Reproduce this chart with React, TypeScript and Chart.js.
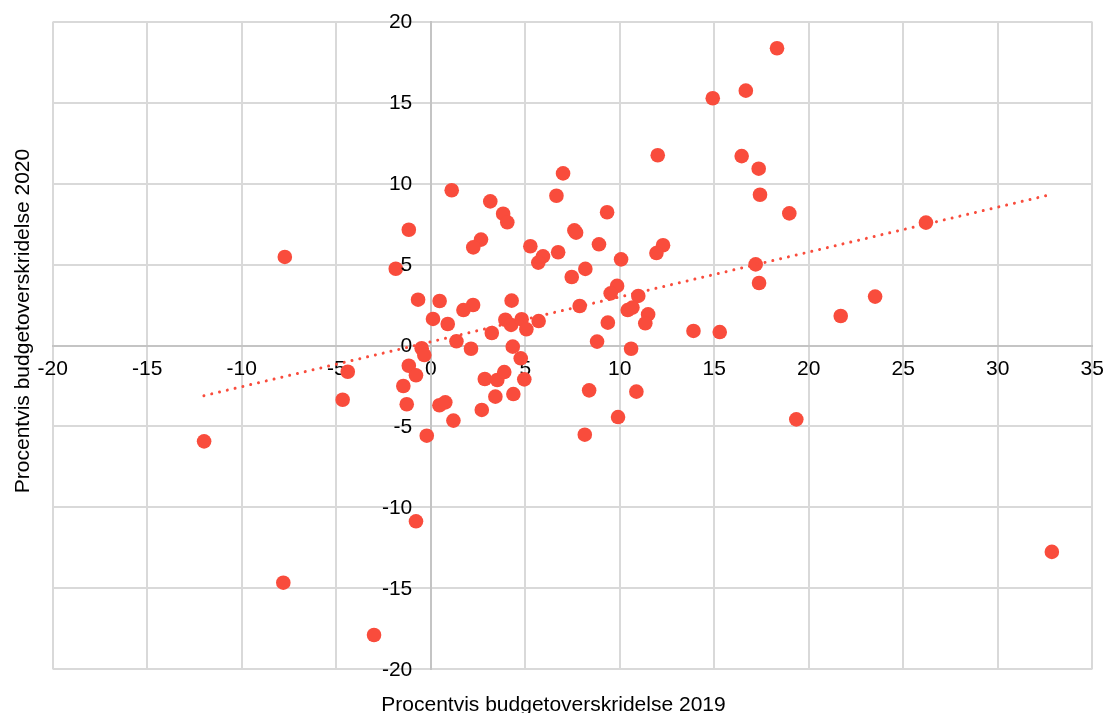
import React, { useEffect, useRef } from "react";
import { Chart, registerables } from "chart.js";

Chart.register(...registerables);

// Procentvis budgetoverskridelse 2019 (x) and 2020 (y)
const overrun2019: number[] = [
  -7.72, -1.16, -1.85, -0.67, 0.47, 0.12, 0.9, -0.48, -0.34, 18.32,
  14.92, 16.67, 12.01, 16.45, 17.35, 17.42, 18.97, 7.0, 6.65, 9.33,
  1.11, 3.15, 3.83, 4.05, 2.66, 2.25, 5.27, 5.94, 5.69, 6.74,
  7.6, 7.69, 8.9, 10.07, 12.29, 11.94, 17.19, 17.37, 7.46, 8.18,
  9.86, 9.52, 10.98, 10.42, 10.67, 11.5, 11.35, 13.9, 15.29, 7.88,
  9.37, 8.8, 10.6, 4.28, 2.24, 1.73, 3.95, 4.25, 4.81, 5.06,
  5.71, 3.23, 1.36, 2.13, 4.34, 4.76, -1.16, -0.78, -1.45, -1.27,
  -0.21, 0.46, 0.77, 1.2, 2.7, 2.86, 3.52, 3.89, 3.42, 4.37,
  4.95, -4.39, -4.66, -11.99, -7.8, -3.0, -0.78, 8.38, 10.88, 9.91,
  8.15, 19.34, 32.86, 26.2, 21.69, 23.51,
];
const overrun2020: number[] = [
  5.47, 7.15, 4.74, 2.83, 2.75, 1.64, 1.33, -0.17, -0.59, 18.36,
  15.27, 15.74, 11.75, 11.7, 10.92, 9.31, 8.16, 10.63, 9.25, 8.23,
  9.59, 8.9, 8.14, 7.61, 6.54, 6.06, 6.13, 5.51, 5.12, 5.76,
  7.11, 6.97, 6.25, 5.32, 6.19, 5.71, 5.01, 3.86, 4.23, 4.73,
  3.68, 3.22, 3.06, 2.19, 2.34, 1.92, 1.37, 0.9, 0.83, 2.44,
  1.41, 0.24, -0.2, 2.77, 2.5, 2.19, 1.59, 1.27, 1.62, 1.0,
  1.51, 0.77, 0.26, -0.2, -0.07, -0.79, -1.25, -1.84, -2.5, -3.63,
  -5.57, -3.69, -3.51, -4.64, -3.98, -2.07, -2.13, -1.64, -3.16, -3.0,
  -2.09, -1.62, -3.35, -5.92, -14.65, -17.88, -10.86, -2.77, -2.85, -4.42,
  -5.51, -4.56, -12.75, 7.59, 1.82, 3.02,
];

// Linear trendline end points
const trendX: number[] = [-12.0, 32.86];
const trendY: number[] = [-3.1, 9.34];

const xTitle = "Procentvis budgetoverskridelse 2019";
const yTitle = "Procentvis budgetoverskridelse 2020";

const RED = "#f94c3c";
const FONT = "'Liberation Sans', Arial, sans-serif";
const TICK_SIZE = 21;

const labelsPlugin = {
  id: "axisTitlesAndYTicks",
  afterDraw(chart: any) {
    const ctx = chart.ctx;
    const ys = chart.scales.y;
    const xs = chart.scales.x;
    ctx.save();
    ctx.fillStyle = "#000";
    // y tick labels, right-aligned just left of the x = 0 axis line
    ctx.font = `${TICK_SIZE}px ${FONT}`;
    ctx.textAlign = "right";
    ctx.textBaseline = "middle";
    const axisX = xs.getPixelForValue(0);
    ys.ticks.forEach((t: any) => {
      ctx.fillText(String(t.value), axisX - 18.5, ys.getPixelForValue(t.value) + 1);
    });
    // axis titles
    ctx.font = `21px ${FONT}`;
    ctx.textAlign = "center";
    ctx.textBaseline = "alphabetic";
    ctx.fillText(xTitle, 553.5, 711);
    ctx.translate(28.7, 321);
    ctx.rotate(-Math.PI / 2);
    ctx.fillText(yTitle, 0, 0);
    ctx.restore();
  },
};

const noOverflow = (scale: any) => {
  scale.paddingLeft = 0;
  scale.paddingRight = 0;
  scale.paddingTop = 0;
  scale.paddingBottom = 0;
};

export default function App() {
  const ref = useRef<HTMLCanvasElement | null>(null);
  useEffect(() => {
    if (!ref.current) return;
    const points = overrun2019.map((x, i) => ({ x, y: overrun2020[i] }));
    const trend = trendX.map((x, i) => ({ x, y: trendY[i] }));
    const chart = new Chart(ref.current, {
      type: "scatter",
      data: {
        datasets: [
          {
            type: "line",
            data: trend,
            showLine: true,
            borderColor: RED,
            borderWidth: 3,
            borderDash: [0.01, 8],
            borderCapStyle: "round",
            pointRadius: 0,
            fill: false,
          } as any,
          {
            data: points,
            backgroundColor: RED,
            borderWidth: 0,
            pointRadius: 7.3,
            pointHoverRadius: 7.3,
          },
        ],
      },
      options: {
        animation: false,
        responsive: false,
        layout: { padding: { left: 52.7, top: 21.7, right: 13.7, bottom: 43.7 } },
        plugins: { legend: { display: false }, tooltip: { enabled: false } },
        scales: {
          x: {
            type: "linear",
            min: -20,
            max: 35,
            position: { y: 0 } as any,
            afterFit: noOverflow,
            grid: { color: "#d9d9d9", lineWidth: 2, drawTicks: false },
            border: { color: "#c4c4c4", width: 2 },
            ticks: {
              stepSize: 5,
              autoSkip: false,
              maxRotation: 0,
              padding: 11,
              color: "#000",
              font: { family: FONT, size: TICK_SIZE },
            },
          },
          y: {
            type: "linear",
            min: -20,
            max: 20,
            position: { x: 0 } as any,
            afterFit: noOverflow,
            grid: { color: "#d9d9d9", lineWidth: 2, drawTicks: false },
            border: { color: "#c4c4c4", width: 2 },
            ticks: {
              stepSize: 5,
              autoSkip: false,
              color: "rgba(0,0,0,0)",
              font: { family: FONT, size: TICK_SIZE },
            },
          },
        },
      },
      plugins: [labelsPlugin],
    });
    return () => chart.destroy();
  }, []);
  return (
    <div style={{ position: "fixed", left: 0, top: 0, width: 1106, height: 713, background: "#fff" }}>
      <canvas ref={ref} width={1106} height={713} />
    </div>
  );
}
